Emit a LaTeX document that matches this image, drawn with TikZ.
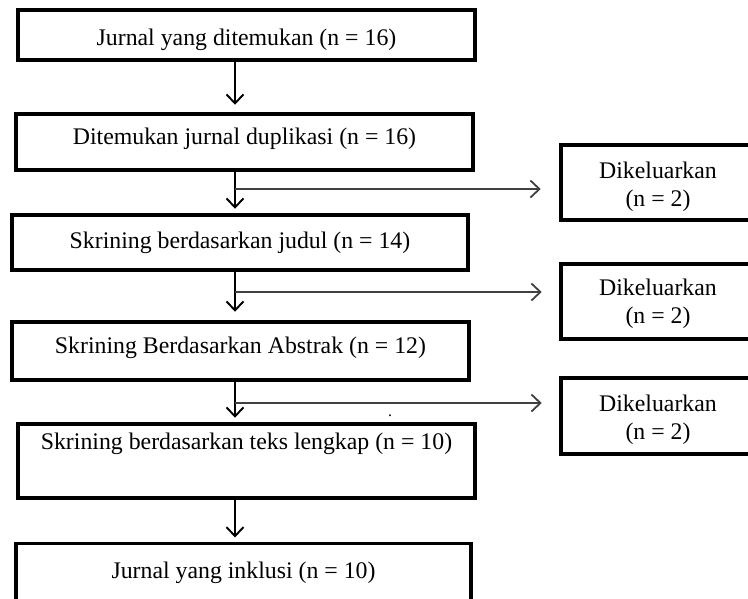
\documentclass[tikz,border=0pt]{standalone}
\usepackage{fontspec}
\setmainfont{Liberation Serif}
\usetikzlibrary{arrows.meta}
\begin{document}
\begin{tikzpicture}[x=1pt,y=-1pt,
  box/.style={draw, line width=3.6pt, inner sep=0pt, outer sep=0pt},
  mainbox/.style={box, minimum width=457.5pt},
  sidebox/.style={box, minimum width=194.5pt, minimum height=75.5pt},
  txt/.style={anchor=base, inner sep=0pt, font=\fontsize{23.8}{28}\selectfont},
  flow/.style={line width=1.9pt, -{Straight Barb[length=9pt,width=17pt]}},
  hflow/.style={line width=1.8pt, draw=black!75, -{Straight Barb[length=9pt,width=17pt]}}
]
\useasboundingbox (0,0) rectangle (748,598);

% main boxes
\node[mainbox, minimum height=50.5pt] (b1) at (246.5,35) {};
\node[mainbox, minimum height=56.5pt] (b2) at (244.5,142) {};
\node[mainbox, minimum width=456.5pt, minimum height=55.5pt] (b3) at (240,242.5) {};
\node[mainbox, minimum height=58.5pt] (b4) at (240.5,351) {};
\node[mainbox, minimum height=74.5pt] (b5) at (246.5,461) {};
\node[mainbox, minimum width=455.5pt, minimum height=83pt] (b6) at (243.5,585) {};

\node[txt] (t1) at (246.5,45) {Jurnal yang ditemukan (n = 16)};
\node[txt] (t2) at (244.5,144) {Ditemukan jurnal duplikasi (n = 16)};
\node[txt] (t3) at (240,248) {Skrining berdasarkan judul (n = 14)};
\node[txt] (t4) at (240.5,353) {Skrining Berdasarkan Abstrak (n = 12)};
\node[txt] (t5) at (246.5,449) {Skrining berdasarkan teks lengkap (n = 10)};
\node[txt] (t6) at (243.5,578) {Jurnal yang inklusi (n = 10)};

% side boxes
\node[sidebox] (sA) at (658,182.5) {};
\node[sidebox] (sB) at (658,301.5) {};
\node[sidebox] (sC) at (658,416) {};
\node[txt] (sA1) at (658,178) {Dikeluarkan};
\node[txt] (sA2) at (658,206) {(n = 2)};
\node[txt] (sB1) at (658,295) {Dikeluarkan};
\node[txt] (sB2) at (658,323) {(n = 2)};
\node[txt] (sC1) at (658,411) {Dikeluarkan};
\node[txt] (sC2) at (658,439) {(n = 2)};

\node[anchor=base, inner sep=0pt, font=\fontsize{16}{16}\selectfont] (dot) at (390,416) {.};

% vertical flow
\coordinate (vx) at (235,0);
\draw[flow, shorten >=9pt] (b1.south -| vx) -- (b2.north -| vx);
\draw[flow, shorten >=6pt] (b2.south -| vx) -- (b3.north -| vx);
\draw[flow, shorten >=10pt] (b3.south -| vx) -- (b4.north -| vx);
\draw[flow, shorten >=6pt] (b4.south -| vx) -- (b5.north -| vx);
\draw[flow, shorten >=6pt] (b5.south -| vx) -- (b6.north -| vx);

% branches
\coordinate (jA) at (235,189);
\coordinate (jB) at (235,292);
\coordinate (jC) at (235,403);
\draw[hflow, shorten >=20pt] (jA) -- (sA.west |- jA);
\draw[hflow, shorten >=19pt] (jB) -- (sB.west |- jB);
\draw[hflow, shorten >=19pt] (jC) -- (sC.west |- jC);
\end{tikzpicture}
\end{document}
